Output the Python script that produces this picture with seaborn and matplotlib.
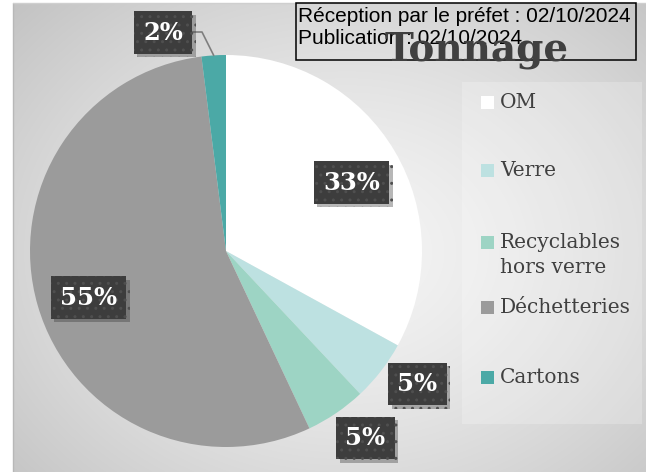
import numpy as np
import matplotlib
matplotlib.use("Agg")
import matplotlib.pyplot as plt
import matplotlib.patheffects as pe
from matplotlib.patches import Rectangle
import seaborn as sns

# Tonnage shares by waste stream (percent)
categories = ["OM", "Verre", "Recyclables\nhors verre", "Déchetteries", "Cartons"]
shares = [33, 5, 5, 55, 2]
colors = ["#ffffff", "#bde1e1", "#9dd4c4", "#9b9b9b", "#4ba9a6"]
title = "Tonnage"
stamp_lines = ["Réception par le préfet : 02/10/2024", "Publication : 02/10/2024"]

sns.set_theme(style="white")
plt.rcParams["font.family"] = ["DejaVu Serif"]

W, H = 646, 472
fig = plt.figure(figsize=(W / 100, H / 100), dpi=100)
fig.patch.set_facecolor("white")

# Full-figure canvas in pixel coordinates for background and annotations
bg = fig.add_axes([0, 0, 1, 1])
bg.axis("off")

# Radial grey gradient behind the chart
yy, xx = np.mgrid[0:H, 0:W]
d = np.hypot((xx - 340) / 420, (yy - 250) / 330)
shade = 0.96 - 0.17 * np.clip(d, 0, 1.3) ** 1.4
img = np.dstack([shade] * 3)
bg.imshow(img, extent=(13, W, H, 3), zorder=0, interpolation="bilinear", aspect="auto")
bg.set_xlim(0, W)
bg.set_ylim(H, 0)
bg.plot([13, 13], [3, H], color="#b8b8b8", lw=1, zorder=1)
bg.plot([13, W], [3, 3], color="#cfcfcf", lw=1, zorder=1)

# Legend panel
bg.add_patch(Rectangle((462, 82), 180, 342, facecolor="white", alpha=0.22,
                       edgecolor="none", zorder=1))

# Pie
cx, cy, R = 226, 251, 196
ax = fig.add_axes([(cx - R) / W, (H - cy - R) / H, 2 * R / W, 2 * R / H])
wedges, _ = ax.pie(shares, colors=colors, startangle=90, counterclock=False,
                   radius=1.0, wedgeprops=dict(linewidth=0))
ax.set_xlim(-1, 1)
ax.set_ylim(-1, 1)
ax.axis("off")

# Percentage labels: radius factor and angular nudge per slice
label_r = [0.73, 1.19, 1.19, 0.74, 1.16]
label_da = [-2, 3, 2.5, 2.5, 12.5]
for w, v, r, da in zip(wedges, shares, label_r, label_da):
    mid = np.deg2rad((w.theta1 + w.theta2) / 2 + da)
    x, y = r * np.cos(mid), r * np.sin(mid)
    t = ax.text(x, y, f"{v}%", ha="center", va="center", color="white",
                fontsize=17.5, fontweight="bold", zorder=5,
                bbox=dict(boxstyle="square,pad=0.38", facecolor="#3d3d3d",
                          edgecolor="#4f4f4f", linewidth=0, hatch=".."))
    t.get_bbox_patch().set_path_effects(
        [pe.SimplePatchShadow(offset=(2.5, -2.5), alpha=0.35, shadow_rgbFace="#333333"),
         pe.Normal()])
    t.set_clip_on(False)

# Leader line for the small slice
w = wedges[-1]
mid = np.deg2rad((w.theta1 + w.theta2) / 2)
ex, ey = np.cos(mid), np.sin(mid)
ax.plot([(191 - cx) / R, (202 - cx) / R, ex], [(cy - 32) / R, (cy - 32) / R, ey],
        color="#7f7f7f", lw=1.2, clip_on=False, zorder=4)

# Legend entries (marker aligned with the first text line)
leg_y = [103, 171, 243, 308, 378]
for lab, col, y in zip(categories, colors, leg_y):
    bg.add_patch(Rectangle((481, y - 7), 13, 13, facecolor=col, edgecolor="none", zorder=3))
    bg.text(500, y - 10, lab, ha="left", va="top", fontsize=14.5, color="#404040",
            linespacing=1.4, zorder=3, family=["DejaVu Serif"])

# Reception stamp and title
bg.add_patch(Rectangle((296, 3), 340, 57, facecolor="none", edgecolor="black",
                       linewidth=1.1, zorder=6))
bg.text(298, 17, stamp_lines[0], ha="left", va="center", fontsize=15,
        family=["Liberation Sans"], color="black", zorder=6)
bg.text(298, 38, stamp_lines[1], ha="left", va="center", fontsize=15,
        family=["Liberation Sans"], color="black", zorder=6)
bg.text(477, 50, title, ha="center", va="center", fontsize=28, fontweight="bold",
        color="#404040", zorder=7, family=["DejaVu Serif"])

fig.savefig("out.png", dpi=100)
